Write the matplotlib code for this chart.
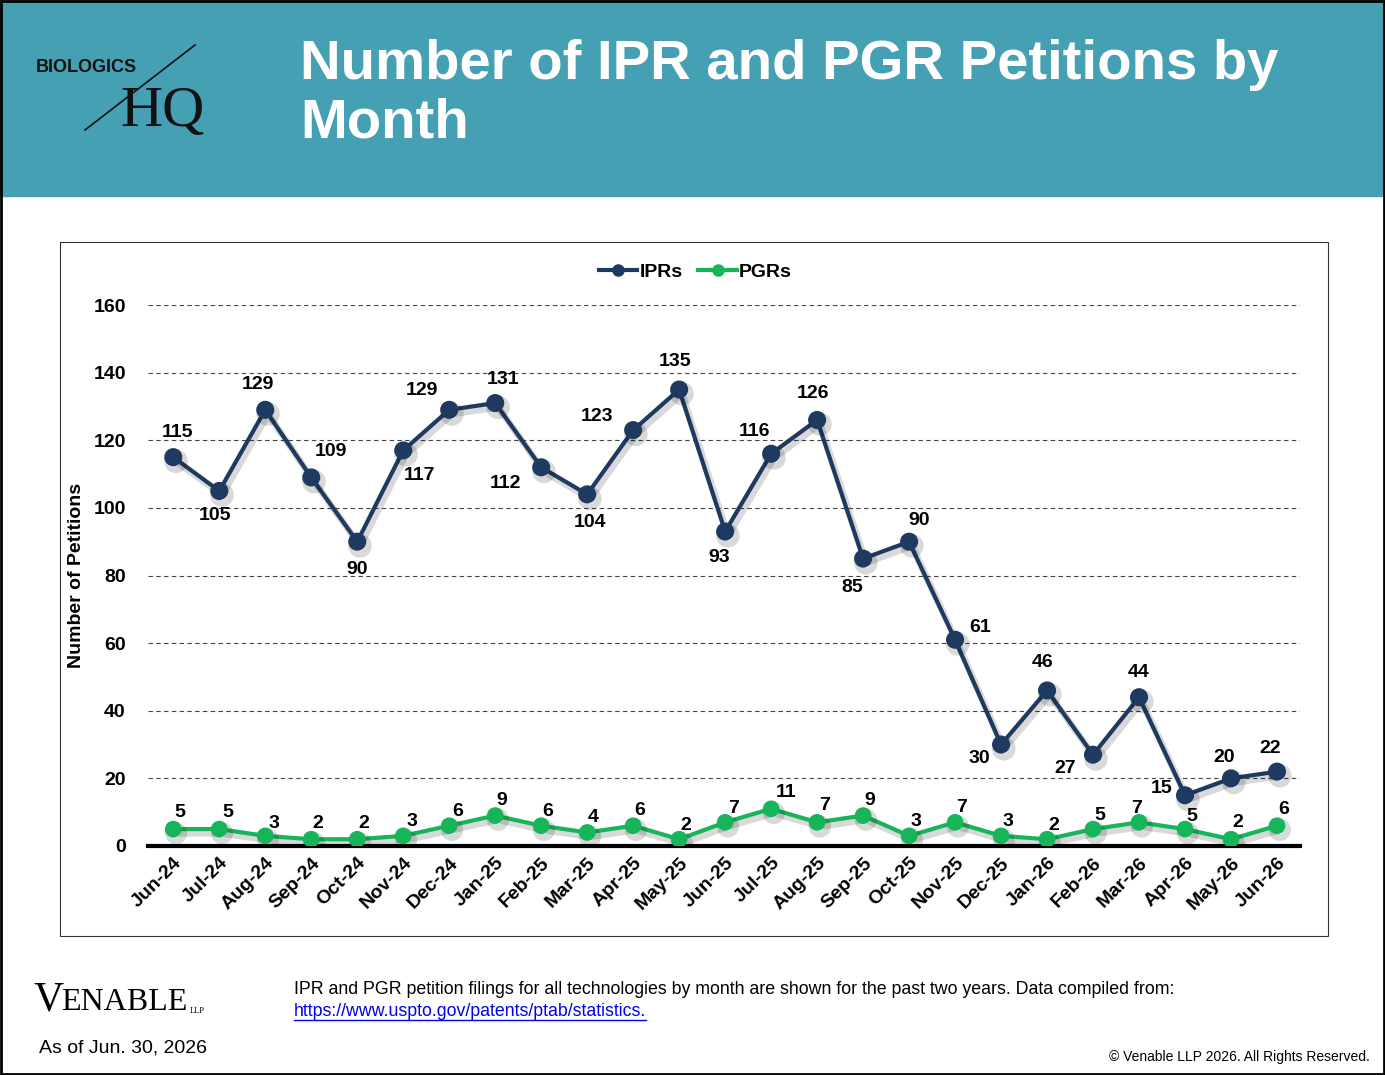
import matplotlib.pyplot as plt
from matplotlib.patches import Rectangle
from matplotlib.lines import Line2D
import matplotlib.patheffects as pe

months = ["Jun-24", "Jul-24", "Aug-24", "Sep-24", "Oct-24", "Nov-24", "Dec-24", "Jan-25", "Feb-25",
          "Mar-25", "Apr-25", "May-25", "Jun-25", "Jul-25", "Aug-25", "Sep-25", "Oct-25", "Nov-25",
          "Dec-25", "Jan-26", "Feb-26", "Mar-26", "Apr-26", "May-26", "Jun-26"]
iprs = [115, 105, 129, 109, 90, 117, 129, 131, 112, 104, 123, 135, 93, 116, 126, 85, 90, 61,
        30, 46, 27, 44, 15, 20, 22]
pgrs = [5, 5, 3, 2, 2, 3, 6, 9, 6, 4, 6, 2, 7, 11, 7, 9, 3, 7, 3, 2, 5, 7, 5, 2, 6]
# label offsets in points (dx, dy)
ipr_off = [(3, 18), (-3, -18), (-5, 18), (14, 19), (0, -20), (12, -18), (-20, 14), (6, 17),
           (-26, -12), (2, -20), (-26, 10), (-3, 20), (-4, -19), (-12, 16), (-3, 19), (-8, -21),
           (7, 15), (18, 9), (-16, -10), (-3, 20), (-20, -10), (0, 18), (-17, 5), (-5, 15), (-5, 17)]
pgr_off = [(5, 12), (6, 12), (6, 9), (5, 11), (5, 11), (6, 10), (6, 10), (5, 11), (5, 10), (4, 11),
           (5, 11), (5, 10), (6, 10), (11, 12), (5, 12), (5, 11), (5, 10), (5, 11), (5, 10), (5, 10),
           (5, 10), (-2, 10), (5, 9), (5, 12), (5, 12)]

W, H = 1385, 1075
fig = plt.figure(figsize=(W / 100, H / 100), dpi=100)
teal = "#45A0B4"
navy = "#1F3A60"
green = "#17B55A"
plt.rcParams["font.family"] = ["Liberation Sans", "DejaVu Sans"]

fig.patches.append(Rectangle((0, 1 - 196 / H), 1, 196 / H, transform=fig.transFigure,
                             color=teal, zorder=0))
fig.patches.append(Rectangle((0.001, 0.001), 0.998, 0.998, transform=fig.transFigure,
                             fill=False, ec="black", lw=2))
fig.patches.append(Rectangle((60 / W, 1 - 936 / H), 1268 / W, 694 / H, transform=fig.transFigure,
                             fill=False, ec="#333333", lw=0.8))

fig.text(300 / W, 1 - 65 / H, "Number of IPR and PGR Petitions by", color="white", fontsize=40.5,
         fontweight="bold", va="center")
fig.text(300 / W, 1 - 123 / H, "Month", color="white", fontsize=40.5, fontweight="bold", va="center")
fig.text(36 / W, 1 - 68 / H, "BIOLOGICS", fontsize=13, fontweight="bold", va="center", color="#111111")
fig.text(120 / W, 1 - 112 / H, "HQ", fontsize=42, va="center", family="Liberation Serif",
         color="#111111")
fig.lines.append(Line2D([85 / W, 195 / W], [1 - 130 / H, 1 - 45 / H], transform=fig.transFigure,
                        color="#111111", lw=1.2))

ax = fig.add_axes([148 / W, 1 - 846 / H, 1152 / W, 541 / H])
x = range(len(months))
shadow = [pe.SimpleLineShadow(offset=(2, -3), alpha=0.15, shadow_color="black", linewidth=5),
          pe.Normal()]
ax.plot(x, iprs, "-o", color=navy, lw=3, ms=12, zorder=3, path_effects=shadow)
ax.plot(x, pgrs, "-o", color=green, lw=3, ms=11, zorder=3, path_effects=shadow)
for i, v in enumerate(iprs):
    ax.annotate(str(v), (i, v), xytext=ipr_off[i], textcoords="offset points", ha="center",
                va="center", fontsize=14, fontweight="bold")
for i, v in enumerate(pgrs):
    ax.annotate(str(v), (i, v), xytext=pgr_off[i], textcoords="offset points", ha="center",
                va="center", fontsize=14, fontweight="bold")

ax.set_xlim(-0.55, len(months) - 0.5)
ax.set_ylim(0, 160)
ax.set_yticks(range(0, 161, 20))
ax.yaxis.grid(True, ls="--", color="#444444", lw=0.8, dashes=(4, 3))
ax.set_axisbelow(True)
for s in ["top", "right", "left"]:
    ax.spines[s].set_visible(False)
ax.spines["bottom"].set_linewidth(3)
ax.tick_params(length=0, labelsize=14)
ax.set_xticks(list(x))
ax.set_xticklabels(months, rotation=45, ha="right", rotation_mode="anchor", fontweight="bold",
                   fontsize=14)
for t in ax.get_yticklabels():
    t.set_fontweight("bold")
ax.tick_params(axis="y", pad=16)
ax.tick_params(axis="x", pad=6)
ax.set_ylabel("Number of Petitions", fontsize=14, fontweight="bold", labelpad=6)
handles = [Line2D([], [], color=navy, lw=3, marker="o", ms=8),
           Line2D([], [], color=green, lw=3, marker="o", ms=8)]
ax.legend(handles, ["IPRs", "PGRs"], loc="upper center", bbox_to_anchor=(0.475, 1.11), ncol=2,
          frameon=False, prop={"weight": "bold", "size": 14},
          handlelength=2, handletextpad=0.1, columnspacing=0.8)

fig.text(33 / W, 1 - 1000 / H, "V", fontsize=30, family="Liberation Serif", va="center")
fig.text(61 / W, 1 - 1002 / H, "ENABLE", fontsize=23, family="Liberation Serif", va="center")
fig.text(190 / W, 1 - 1011 / H, "LLP", fontsize=6, family="Liberation Serif", va="center")
fig.text(39 / W, 1 - 1048 / H, "As of Jun. 30, 2026", fontsize=14, va="center")
fig.text(294 / W, 1 - 989 / H, "IPR and PGR petition filings for all technologies by month are "
         "shown for the past two years. Data compiled from:", fontsize=12.8, va="center")
fig.text(294 / W, 1 - 1011 / H, "https://www.uspto.gov/patents/ptab/statistics.", fontsize=12.8,
         va="center", color="#0000EE")
fig.lines.append(Line2D([294 / W, 646 / W], [1 - 1020 / H] * 2, transform=fig.transFigure,
                        color="#0000EE", lw=1))
fig.text(1370 / W, 1 - 1057 / H, "© Venable LLP 2026. All Rights Reserved.", fontsize=10,
         va="center", ha="right")

fig.savefig("out.png", dpi=100)
